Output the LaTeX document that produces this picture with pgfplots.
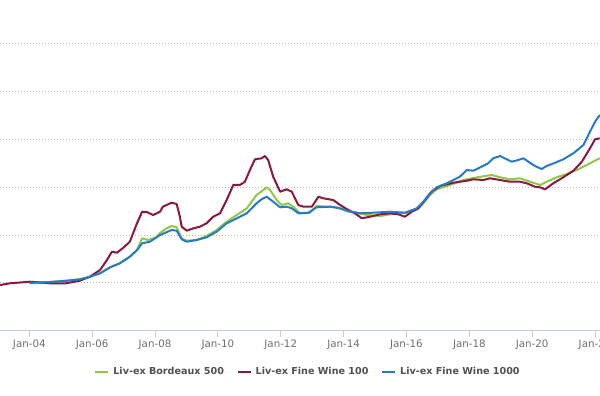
\documentclass[border=0pt]{standalone}
\usepackage{fontspec}
\setmainfont{DejaVu Sans}
\usepackage{pgfplots}
\pgfplotsset{compat=1.18}
\definecolor{bgreen}{RGB}{141,200,70}
\definecolor{fred}{RGB}{139,24,62}
\definecolor{fblue}{RGB}{40,122,200}
\definecolor{gridc}{RGB}{175,180,192}
\definecolor{axisc}{RGB}{192,208,224}
\definecolor{ticktext}{RGB}{110,110,110}
\definecolor{legtext}{RGB}{80,80,80}
\begin{document}
\begin{tikzpicture}
\path[use as bounding box] (0,0) rectangle (450pt,297pt);
\clip (0,0) rectangle (450pt,297pt);
\begin{axis}[
  at={(0pt,48.75pt)}, anchor=south west,
  scale only axis, width=450pt, height=248.25pt,
  xmin=2003.068, xmax=2022.158, ymin=0, ymax=689.6,
  axis x line*=bottom, axis y line*=left,
  x axis line style={draw=axisc, line width=0.75pt},
  y axis line style={draw=none},
  xtick={2004,2006,2008,2010,2012,2014,2016,2018,2020,2022},
  xticklabels={Jan-04,Jan-06,Jan-08,Jan-10,Jan-12,Jan-14,Jan-16,Jan-18,Jan-20,Jan-22},
  xtick style={draw=axisc, line width=0.75pt},
  ytick style={draw=none},
  tick align=outside, major tick length=4.5pt,
  xticklabel style={font=\fontsize{7.7}{9}\selectfont, text=ticktext, anchor=center, yshift=-6pt},
  ytick={100,200,300,400,500,600,700}, yticklabels={},
  ymajorgrids, xmajorgrids=false,
  major grid style={draw=gridc, line width=0.75pt, dash pattern=on 0.75pt off 1.5pt},
  clip=false,
  legend columns=-1,
  legend style={at={(rel axis cs:0.5117,-0.1239)}, anchor=center, draw=none, fill=none,
    font=\bfseries\fontsize{7.2}{9}\selectfont, text=legtext, inner sep=0pt,
    nodes={inner sep=0pt},
    /tikz/every odd column/.append style={column sep=3pt},
    /tikz/every even column/.append style={column sep=9.5pt}},
  legend image code/.code={\draw[#1, line width=1.5pt] (0pt,0pt) -- (9.75pt,0pt);},
  every axis plot/.append style={line width=1.5pt, line join=round, no markers},
]
\addplot[color=bgreen] coordinates {
(2004.00,100.0)(2004.66,102.1)(2005.61,107.7)(2005.93,113.1)(2006.25,120.2)(2006.57,132.7)
(2006.88,141.0)(2007.20,154.8)(2007.43,168.7)(2007.59,193.1)(2007.78,189.6)(2008.06,195.8)
(2008.16,204.2)(2008.37,213.9)(2008.53,218.7)(2008.69,216.0)(2008.85,193.1)(2009.01,188.1)
(2009.33,189.6)(2009.64,197.9)(2009.96,210.4)(2010.28,227.7)(2010.60,241.7)(2010.92,255.6)
(2011.23,283.3)(2011.45,293.7)(2011.55,299.4)(2011.66,293.7)(2011.87,272.9)(2012.03,262.5)
(2012.24,266.0)(2012.40,259.0)(2012.61,245.2)(2012.93,246.4)(2013.14,260.4)(2013.46,259.0)
(2013.78,257.7)(2014.15,248.5)(2014.42,246.4)(2014.74,241.7)(2015.16,239.6)(2015.69,245.2)
(2016.01,246.4)(2016.33,253.5)(2016.54,266.0)(2016.75,283.3)(2016.96,295.2)(2017.39,304.2)
(2017.81,314.6)(2018.24,320.2)(2018.71,325.0)(2018.98,320.2)(2019.29,316.0)(2019.61,318.1)
(2019.93,311.0)(2020.25,304.2)(2020.46,311.0)(2020.78,320.2)(2021.10,327.1)(2021.42,335.4)
(2021.73,345.8)(2022.15,359.8)
};
\addlegendentry{Liv-ex Bordeaux 500}
\addplot[color=fred] coordinates {
(2003.07,95.8)(2003.39,99.4)(2004.02,102.7)(2004.66,99.4)(2005.14,99.0)(2005.61,104.8)
(2005.93,113.1)(2006.25,127.1)(2006.47,147.9)(2006.63,165.2)(2006.79,163.1)(2006.98,172.9)
(2007.20,186.0)(2007.43,225.0)(2007.59,248.5)(2007.74,247.9)(2007.94,241.7)(2008.16,248.5)
(2008.25,259.0)(2008.53,267.3)(2008.69,264.6)(2008.79,238.1)(2008.85,217.3)(2009.01,209.0)
(2009.22,213.9)(2009.43,217.3)(2009.64,224.4)(2009.85,238.1)(2010.07,245.2)(2010.28,272.9)
(2010.49,304.2)(2010.70,304.2)(2010.86,311.0)(2011.02,335.4)(2011.18,357.7)(2011.39,359.8)
(2011.50,364.6)(2011.60,356.3)(2011.76,321.5)(2011.98,290.2)(2012.19,295.2)(2012.35,290.2)
(2012.56,262.5)(2012.72,259.0)(2012.99,259.0)(2013.20,279.8)(2013.35,276.5)(2013.67,272.9)
(2013.89,262.5)(2014.15,252.1)(2014.36,245.2)(2014.58,234.8)(2014.84,238.1)(2015.16,243.1)
(2015.48,245.2)(2015.74,243.1)(2015.95,238.1)(2016.17,248.5)(2016.38,255.6)(2016.59,272.9)
(2016.80,290.2)(2017.07,302.1)(2017.49,308.9)(2017.92,313.1)(2018.13,316.0)(2018.44,314.6)
(2018.66,318.1)(2018.98,314.6)(2019.29,311.0)(2019.61,311.0)(2019.83,307.7)(2020.09,300.6)
(2020.25,299.4)(2020.41,295.2)(2020.67,307.7)(2020.99,320.2)(2021.31,333.9)(2021.58,352.7)
(2021.84,380.6)(2022.00,399.4)(2022.15,401.5)
};
\addlegendentry{Liv-ex Fine Wine 100}
\addplot[color=fblue] coordinates {
(2004.00,100.0)(2004.66,102.1)(2005.14,104.2)(2005.61,107.7)(2005.93,113.1)(2006.25,120.2)
(2006.57,132.7)(2006.88,141.0)(2007.20,154.8)(2007.43,168.7)(2007.59,182.7)(2007.74,184.8)
(2007.84,186.0)(2008.16,200.0)(2008.53,210.4)(2008.69,209.0)(2008.85,191.0)(2009.01,186.0)
(2009.33,189.6)(2009.64,195.2)(2009.96,206.9)(2010.28,224.4)(2010.60,234.8)(2010.92,245.2)
(2011.23,266.0)(2011.39,274.4)(2011.55,279.8)(2011.76,269.4)(2011.98,257.7)(2012.19,259.0)
(2012.35,255.6)(2012.56,245.2)(2012.88,246.4)(2013.14,257.7)(2013.57,259.0)(2013.89,255.6)
(2014.15,250.0)(2014.52,245.2)(2014.94,246.4)(2015.48,248.5)(2015.95,246.4)(2016.33,255.6)
(2016.54,269.4)(2016.75,286.9)(2016.96,299.4)(2017.28,307.7)(2017.70,321.5)(2017.92,335.4)
(2018.13,333.9)(2018.39,342.3)(2018.60,349.4)(2018.76,359.8)(2018.98,364.6)(2019.19,357.7)
(2019.35,352.7)(2019.56,356.3)(2019.72,359.8)(2019.88,352.7)(2020.09,343.7)(2020.30,337.5)
(2020.46,343.7)(2020.73,350.6)(2020.99,357.7)(2021.31,370.2)(2021.63,387.5)(2021.84,415.2)
(2022.00,436.0)(2022.15,450.0)
};
\addlegendentry{Liv-ex Fine Wine 1000}
\end{axis}
\end{tikzpicture}
\end{document}
